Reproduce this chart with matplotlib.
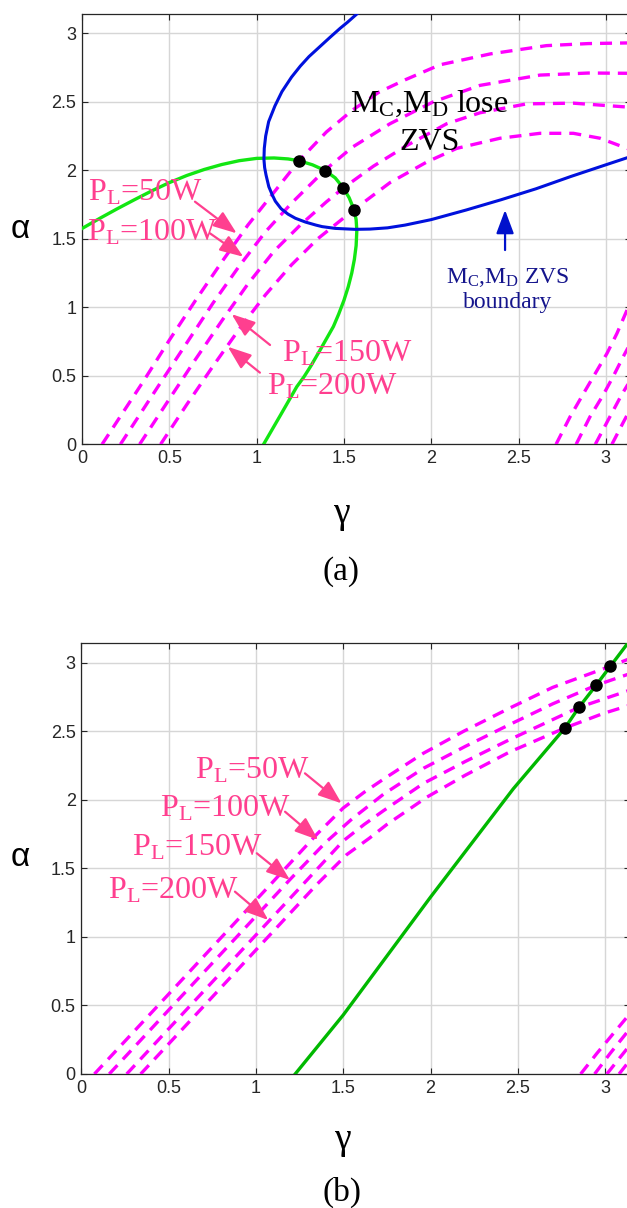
import matplotlib
matplotlib.use("Agg")
import matplotlib.pyplot as plt
import numpy as np

plt.rcParams['mathtext.fontset'] = 'custom'
plt.rcParams['mathtext.rm'] = 'Liberation Serif'
plt.rcParams['mathtext.it'] = 'Liberation Serif:italic'
plt.rcParams['mathtext.bf'] = 'Liberation Serif:bold'

# ---------------- data : panel (a) ----------------
a_green_g = [0.0, 0.1, 0.2, 0.3, 0.4, 0.5, 0.6, 0.7, 0.8, 0.9, 1.0, 1.1, 1.18, 1.243, 1.32,
             1.39, 1.45, 1.497, 1.53, 1.558, 1.57, 1.574, 1.57, 1.56, 1.545, 1.525, 1.5,
             1.47, 1.44, 1.40, 1.36, 1.31, 1.27, 1.23, 1.185, 1.14, 1.09, 1.04]
a_green_a = [1.575, 1.648, 1.718, 1.785, 1.85, 1.91, 1.962, 2.006, 2.042, 2.07, 2.087, 2.09,
             2.083, 2.07, 2.04, 2.0, 1.945, 1.871, 1.8, 1.713, 1.64, 1.56, 1.45, 1.35, 1.25,
             1.15, 1.05, 0.95, 0.86, 0.77, 0.68, 0.57, 0.49, 0.42, 0.32, 0.22, 0.11, 0.0]

a_blue_g = [1.575, 1.52, 1.478, 1.42, 1.36, 1.30, 1.25, 1.2, 1.145, 1.105, 1.069, 1.052, 1.044,
            1.042, 1.046, 1.054, 1.07, 1.09, 1.107, 1.14, 1.18, 1.222, 1.28, 1.34, 1.375, 1.45,
            1.565, 1.65, 1.75, 1.85, 2.0, 2.2, 2.4, 2.6, 2.8, 3.0, 3.142]
a_blue_a = [3.142, 3.08, 3.036, 2.97, 2.9, 2.83, 2.76, 2.68, 2.574, 2.47, 2.355, 2.25, 2.16,
            2.08, 2.02, 1.966, 1.88, 1.82, 1.775, 1.72, 1.68, 1.65, 1.622, 1.6, 1.589, 1.576,
            1.569, 1.571, 1.58, 1.6, 1.64, 1.71, 1.785, 1.865, 1.955, 2.04, 2.1]

a_p50_g = [0.115, 0.35, 0.5, 0.65, 0.8, 0.95, 1.1, 1.243, 1.4, 1.55, 1.7, 1.85, 2.05, 2.34, 2.66, 2.9, 3.142]
a_p50_a = [0.0, 0.457, 0.76, 1.05, 1.33, 1.6, 1.84, 2.07, 2.28, 2.44, 2.57, 2.66, 2.77, 2.85, 2.91, 2.925, 2.93]
a_p100_g = [0.22, 0.45, 0.6, 0.75, 0.9, 1.05, 1.2, 1.39, 1.55, 1.764, 2.012, 2.28, 2.623, 2.9, 3.142]
a_p100_a = [0.0, 0.45, 0.74, 1.03, 1.3, 1.55, 1.76, 2.0, 2.17, 2.34, 2.5, 2.62, 2.695, 2.71, 2.708]
a_p150_g = [0.33, 0.5, 0.65, 0.8, 0.95, 1.1, 1.25, 1.4, 1.497, 1.669, 1.859, 2.089, 2.28, 2.547, 2.814, 3.142]
a_p150_a = [0.0, 0.33, 0.62, 0.9, 1.17, 1.41, 1.6, 1.77, 1.871, 2.03, 2.18, 2.34, 2.42, 2.485, 2.49, 2.46]
a_p200_g = [0.45, 0.6, 0.75, 0.9, 1.05, 1.2, 1.35, 1.558, 1.764, 1.974, 2.146, 2.394, 2.623, 2.814, 2.967, 3.142]
a_p200_a = [0.0, 0.29, 0.57, 0.84, 1.09, 1.31, 1.5, 1.713, 1.91, 2.06, 2.16, 2.234, 2.27, 2.27, 2.234, 2.15]

a_c50_g = [2.715, 2.795, 2.872, 2.94, 3.007, 3.064, 3.142]
a_c50_a = [0.0, 0.2, 0.37, 0.518, 0.664, 0.81, 1.04]
a_c100_g = [2.83, 2.909, 2.985, 3.042, 3.1, 3.142]
a_c100_a = [0.0, 0.2, 0.36, 0.494, 0.64, 0.74]
a_c150_g = [2.94, 3.023, 3.09, 3.142]
a_c150_a = [0.0, 0.2, 0.36, 0.47]
a_c200_g = [3.035, 3.1, 3.142]
a_c200_a = [0.0, 0.16, 0.26]

a_dots_g = [1.243, 1.39, 1.497, 1.558]
a_dots_a = [2.07, 1.998, 1.871, 1.713]

# ---------------- data : panel (b) ----------------
b_green_g = [1.225, 1.5, 2.0, 2.474, 2.77, 2.85, 2.948, 3.03, 3.13]
b_green_a = [0.0, 0.43, 1.29, 2.08, 2.524, 2.674, 2.835, 2.974, 3.142]

b_p50_g = [0.075, 0.4, 0.75, 1.1, 1.35, 1.5, 1.62, 1.73, 1.96, 2.19, 2.455, 2.7, 3.03, 3.142]
b_p50_a = [0.0, 0.445, 0.925, 1.405, 1.75, 1.94, 2.055, 2.15, 2.34, 2.5, 2.67, 2.82, 2.974, 3.03]
b_p100_g = [0.16, 0.5, 0.85, 1.2, 1.4, 1.55, 1.73, 1.96, 2.2, 2.455, 2.7, 2.948, 3.142]
b_p100_a = [0.0, 0.466, 0.945, 1.425, 1.69, 1.86, 2.04, 2.23, 2.39, 2.55, 2.7, 2.835, 2.92]
b_p150_g = [0.26, 0.6, 0.95, 1.25, 1.5, 1.62, 1.73, 1.96, 2.2, 2.455, 2.7, 2.85, 3.142]
b_p150_a = [0.0, 0.466, 0.945, 1.356, 1.7, 1.82, 1.92, 2.12, 2.28, 2.44, 2.585, 2.674, 2.8]
b_p200_g = [0.34, 0.7, 1.05, 1.35, 1.52, 1.65, 1.75, 1.98, 2.2, 2.455, 2.77, 2.99, 3.142]
b_p200_a = [0.0, 0.493, 0.973, 1.384, 1.6, 1.72, 1.82, 2.02, 2.18, 2.35, 2.524, 2.63, 2.69]

b_c50_g = [2.86, 2.952, 3.047, 3.142]
b_c50_a = [0.0, 0.149, 0.295, 0.44]
b_c100_g = [2.94, 3.028, 3.142]
b_c100_a = [0.0, 0.149, 0.33]
b_c150_g = [3.01, 3.085, 3.142]
b_c150_a = [0.0, 0.12, 0.21]
b_c200_g = [3.08, 3.142]
b_c200_a = [0.0, 0.1]

b_dots_g = [2.77, 2.85, 2.948, 3.03]
b_dots_a = [2.524, 2.674, 2.835, 2.974]

ticks = [0, 0.5, 1, 1.5, 2, 2.5, 3]
tick_labels = ['0', '0.5', '1', '1.5', '2', '2.5', '3']
load_labels = [r'P$_{\mathrm{L}}$=50W', r'P$_{\mathrm{L}}$=100W',
               r'P$_{\mathrm{L}}$=150W', r'P$_{\mathrm{L}}$=200W']

# ---------------- style ----------------
MAG = '#ff00ff'
PINK = '#ff3f8f'
SERIF = 'Liberation Serif'
SANS = 'Liberation Sans'
W, H = 627, 1208

fig = plt.figure(figsize=(W / 100, H / 100), dpi=100)


def setup(ax):
    ax.set_xlim(0, np.pi)
    ax.set_ylim(0, np.pi)
    ax.set_xticks(ticks)
    ax.set_yticks(ticks)
    ax.set_xticklabels(tick_labels, family=SANS, fontsize=13, color='#262626')
    ax.set_yticklabels(tick_labels, family=SANS, fontsize=13, color='#262626')
    ax.tick_params(direction='in', length=4, width=0.8, top=True, right=True,
                   colors='#262626', pad=4)
    ax.grid(True, color='#d6d6d6', lw=1.0)
    ax.set_axisbelow(True)
    for s in ax.spines.values():
        s.set_color('#262626')
        s.set_linewidth(0.9)


def dashed(ax, g, a):
    ax.plot(g, a, color=MAG, lw=2.4, dashes=(3.6, 2.4), solid_capstyle='butt',
            dash_capstyle='butt', zorder=3)


def arrow(ax, tail, tip, color=PINK):
    ax.annotate('', xy=tip, xytext=tail,
                arrowprops=dict(arrowstyle='-|>,head_length=0.8,head_width=0.3',
                                color=color, lw=1.6, mutation_scale=18,
                                shrinkA=0, shrinkB=0), zorder=6)


# ---------------- panel (a) ----------------
axa = fig.add_axes([82 / W, 1 - 444.3 / H, np.pi * 174.6 / W, np.pi * 137 / H])
setup(axa)
for g, a in [(a_p50_g, a_p50_a), (a_p100_g, a_p100_a), (a_p150_g, a_p150_a), (a_p200_g, a_p200_a),
             (a_c50_g, a_c50_a), (a_c100_g, a_c100_a), (a_c150_g, a_c150_a), (a_c200_g, a_c200_a)]:
    dashed(axa, g, a)
axa.plot(a_green_g, a_green_a, color='#12e612', lw=2.4, zorder=4)
axa.plot(a_blue_g, a_blue_a, color='#0011dd', lw=2.2, zorder=4)
axa.plot(a_dots_g, a_dots_a, 'o', color='black', ms=8, zorder=7)

axa.text(0.034, 1.776, load_labels[0], color=PINK, family=SERIF, fontsize=23, va='baseline', zorder=8)
axa.text(0.03, 1.486, load_labels[1], color=PINK, family=SERIF, fontsize=23, va='baseline', zorder=8)
axa.text(1.144, 0.603, load_labels[2], color=PINK, family=SERIF, fontsize=23, va='baseline', zorder=8)
axa.text(1.058, 0.36, load_labels[3], color=PINK, family=SERIF, fontsize=23, va='baseline', zorder=8)
arrow(axa, (0.647, 1.771), (0.886, 1.54))
arrow(axa, (0.733, 1.54), (0.924, 1.369))
arrow(axa, (1.077, 0.725), (0.857, 0.95))
arrow(axa, (1.019, 0.523), (0.835, 0.712))

axa.text(1.99, 2.428, r'M$_{\mathrm{C}}$,M$_{\mathrm{D}}$ lose', color='black', family=SERIF,
         fontsize=23, ha='center', va='baseline', zorder=8)
axa.text(1.99, 2.148, 'ZVS', color='black', family=SERIF, fontsize=23, ha='center',
         va='baseline', zorder=8)
axa.text(2.44, 1.177, r'M$_{\mathrm{C}}$,M$_{\mathrm{D}}$ ZVS', color='#14148c', family=SERIF,
         fontsize=17, ha='center', va='baseline', zorder=8)
axa.text(2.44, 0.995, 'boundary', color='#14148c', family=SERIF, fontsize=17, ha='center',
         va='baseline', zorder=8)
arrow(axa, (2.423, 1.418), (2.423, 1.71), color='#0011cc')

# ---------------- panel (b) ----------------
axb = fig.add_axes([81.3 / W, 1 - 1074 / H, np.pi * 174.6 / W, np.pi * 137.1 / H])
setup(axb)
for g, a in [(b_p50_g, b_p50_a), (b_p100_g, b_p100_a), (b_p150_g, b_p150_a), (b_p200_g, b_p200_a),
             (b_c50_g, b_c50_a), (b_c100_g, b_c100_a), (b_c150_g, b_c150_a), (b_c200_g, b_c200_a)]:
    dashed(axb, g, a)
axb.plot(b_green_g, b_green_a, color='#00b800', lw=2.4, zorder=4)
axb.plot(b_dots_g, b_dots_a, 'o', color='black', ms=8, zorder=7)

axb.text(0.651, 2.159, load_labels[0], color=PINK, family=SERIF, fontsize=23, va='baseline', zorder=8)
axb.text(0.451, 1.877, load_labels[1], color=PINK, family=SERIF, fontsize=23, va='baseline', zorder=8)
axb.text(0.289, 1.597, load_labels[2], color=PINK, family=SERIF, fontsize=23, va='baseline', zorder=8)
axb.text(0.155, 1.281, load_labels[3], color=PINK, family=SERIF, fontsize=23, va='baseline', zorder=8)
arrow(axb, (1.281, 2.193), (1.491, 1.974))
arrow(axb, (1.167, 1.913), (1.357, 1.707))
arrow(axb, (1.005, 1.61), (1.195, 1.415))
arrow(axb, (0.88, 1.33), (1.071, 1.123))

# ---------------- figure labels ----------------
def flabel(x, y, s, family, size):
    fig.text(x / W, 1 - y / H, s, family=family, fontsize=size, ha='center', va='center',
             color='black')

flabel(20, 230, 'α', SANS, 24)
flabel(20, 857, 'α', SANS, 24)
flabel(341, 514, 'γ', SERIF, 27)
flabel(342, 1140, 'γ', SERIF, 27)
flabel(341, 572, '(a)', SERIF, 24)
flabel(342, 1192, '(b)', SERIF, 24)

fig.savefig('out.png', dpi=100)
